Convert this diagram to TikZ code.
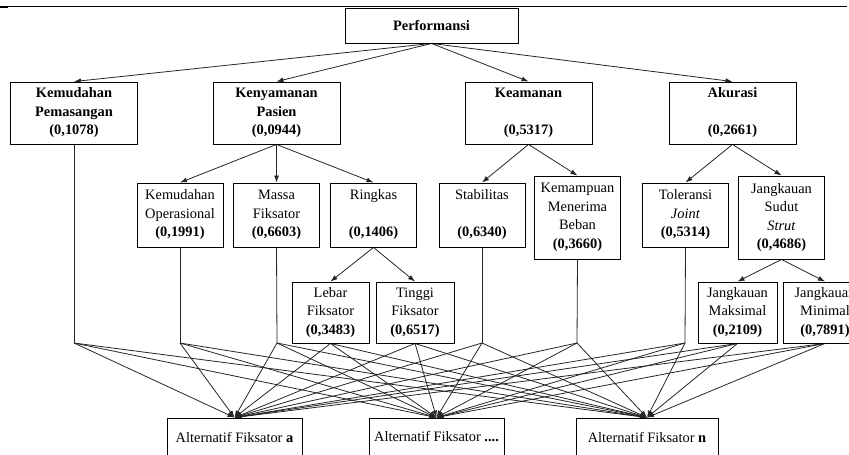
\documentclass[tikz,border=0pt]{standalone}
\usepackage{fontspec}
\setmainfont{Liberation Serif}
\usepackage{tikz}
\usetikzlibrary{arrows.meta}
\pgfdeclarelayer{edgelayer}
\pgfdeclarelayer{nodelayer}
\pgfsetlayers{edgelayer,nodelayer,main}
\newcommand{\boxfont}{\fontsize{14.4}{18.5}\selectfont}
\tikzstyle{edge}=[draw=black!85, line width=0.8pt]
\tikzstyle{arrow}=[draw=black!85, line width=0.8pt, -{Latex[length=7pt,width=5pt]}]
\tikzstyle{goal}=[draw=black, fill=white, line width=0.9pt, font=\boxfont\bfseries, minimum width=173pt, minimum height=35pt, inner sep=0pt]
\tikzstyle{crit}=[draw=black, fill=white, line width=0.9pt, align=center, font=\boxfont\bfseries, minimum width=127pt, minimum height=62pt, inner sep=0pt]
\tikzstyle{sub}=[draw=black, fill=white, line width=0.9pt, align=center, font=\boxfont, minimum width=86pt, minimum height=64pt, inner sep=0pt]
\tikzstyle{subtall}=[sub, minimum height=83pt]
\tikzstyle{leaf}=[draw=black, fill=white, line width=0.9pt, align=center, font=\boxfont, minimum width=80pt, minimum height=61pt, inner sep=0pt]
\tikzstyle{alt}=[draw=black, fill=white, line width=0.9pt, font=\boxfont, minimum width=135pt, minimum height=38pt, inner sep=0pt]

\begin{document}
\begin{tikzpicture}[x=1pt, y=-1pt]
			\useasboundingbox (0, 0) rectangle (849, 455);
			\draw [line width=1pt] (0, 6) -- (847, 6);
			\draw [line width=2pt] (0, 7) -- (8, 7);
			\begin{pgfonlayer}{nodelayer}
			\node [style=goal] (0) at (431.5, 25.5) {Performansi};
			\node [style=crit] (1) at (74, 113) {Kemudahan\\Pemasangan\\(0,1078)};
			\node [style=crit] (2) at (276.5, 113) {Kenyamanan\\Pasien\\(0,0944)};
			\node [style=crit] (3) at (528.5, 113) {Keamanan\\~\\(0,5317)};
			\node [style=crit] (4) at (732.5, 113) {Akurasi\\~\\(0,2661)};
			\node [style=sub] (5) at (180, 215) {Kemudahan\\Operasional\\\textbf{(0,1991)}};
			\node [style=sub] (6) at (276.5, 215) {Massa\\Fiksator\\\textbf{(0,6603)}};
			\node [style=sub] (7) at (373.5, 215) {Ringkas\\~\\\textbf{(0,1406)}};
			\node [style=sub] (8) at (482, 215) {Stabilitas\\~\\\textbf{(0,6340)}};
			\node [style=subtall] (9) at (577.5, 217.5) {Kemampuan\\Menerima\\Beban\\\textbf{(0,3660)}};
			\node [style=sub] (10) at (685.5, 215) {Toleransi\\\textit{Joint}\\\textbf{(0,5314)}};
			\node [style=subtall] (11) at (781.5, 217.5) {Jangkauan\\Sudut\\\textit{Strut}\\\textbf{(0,4686)}};
			\node [style=leaf, minimum width=77pt] (12) at (330.5, 312.5) {Lebar\\Fiksator\\\textbf{(0,3483)}};
			\node [style=leaf, minimum width=78pt] (13) at (415, 312.5) {Tinggi\\Fiksator\\\textbf{(0,6517)}};
			\node [style=leaf, minimum width=79pt] (14) at (737.5, 312.5) {Jangkauan\\Maksimal\\\textbf{(0,2109)}};
			\node [style=leaf, minimum width=84pt] (15) at (825, 312.5) {Jangkauan\\Minimal\\\textbf{(0,7891)}};
			\node [style=alt] (16) at (234.5, 437) {Alternatif Fiksator \textbf{a}};
			\node [style=alt] (17) at (436.5, 437) {Alternatif Fiksator \textbf{....}};
			\node [style=alt, minimum width=142pt] (18) at (647, 437) {Alternatif Fiksator \textbf{n}};
			\coordinate (19) at (74, 343);
			\coordinate (20) at (180, 343);
			\coordinate (21) at (277, 343);
			\coordinate (22) at (482, 343);
			\coordinate (23) at (577, 343);
			\coordinate (24) at (685, 343);
			\end{pgfonlayer}
			\begin{pgfonlayer}{edgelayer}
			\draw [style=arrow] (0.south) to (1.north);
			\draw [style=arrow] (0.south) to (2.north);
			\draw [style=arrow] (0.south) to (3.north);
			\draw [style=arrow] (0.south) to (4.north);
			\draw [style=arrow] (2.south) to (5.north);
			\draw [style=arrow] (2.south) to (6.north);
			\draw [style=arrow] (2.south) to (7.north);
			\draw [style=arrow] (3.south) to (8.north);
			\draw [style=arrow] (3.south) to (9.north);
			\draw [style=arrow] (4.south) to (10.north);
			\draw [style=arrow] (4.south) to (11.north);
			\draw [style=arrow] (7.south) to (12.north);
			\draw [style=arrow] (7.south) to (13.north);
			\draw [style=arrow] (11.south) to (14.north);
			\draw [style=arrow] (11.south) to (15.north);
			\draw [style=edge] (1.south) to (19);
			\draw [style=edge] (5.south) to (20);
			\draw [style=edge] (6.south) to (21);
			\draw [style=edge] (8.south) to (22);
			\draw [style=edge] (9.south) to (23);
			\draw [style=edge] (10.south) to (24);
			\draw [style=arrow] (19) to (16.north);
			\draw [style=arrow] (19) to (17.north);
			\draw [style=arrow] (19) to (18.north);
			\draw [style=arrow] (20) to (16.north);
			\draw [style=arrow] (20) to (17.north);
			\draw [style=arrow] (20) to (18.north);
			\draw [style=arrow] (21) to (16.north);
			\draw [style=arrow] (21) to (17.north);
			\draw [style=arrow] (21) to (18.north);
			\draw [style=arrow] (12.south) to (16.north);
			\draw [style=arrow] (12.south) to (17.north);
			\draw [style=arrow] (12.south) to (18.north);
			\draw [style=arrow] (13.south) to (16.north);
			\draw [style=arrow] (13.south) to (17.north);
			\draw [style=arrow] (13.south) to (18.north);
			\draw [style=arrow] (22) to (16.north);
			\draw [style=arrow] (22) to (17.north);
			\draw [style=arrow] (22) to (18.north);
			\draw [style=arrow] (23) to (16.north);
			\draw [style=arrow] (23) to (17.north);
			\draw [style=arrow] (23) to (18.north);
			\draw [style=arrow] (24) to (16.north);
			\draw [style=arrow] (24) to (17.north);
			\draw [style=arrow] (24) to (18.north);
			\draw [style=arrow] (14.south) to (16.north);
			\draw [style=arrow] (14.south) to (17.north);
			\draw [style=arrow] (14.south) to (18.north);
			\draw [style=arrow] (15.south) to (16.north);
			\draw [style=arrow] (15.south) to (17.north);
			\draw [style=arrow] (15.south) to (18.north);
			\end{pgfonlayer}
\end{tikzpicture}
\end{document}
